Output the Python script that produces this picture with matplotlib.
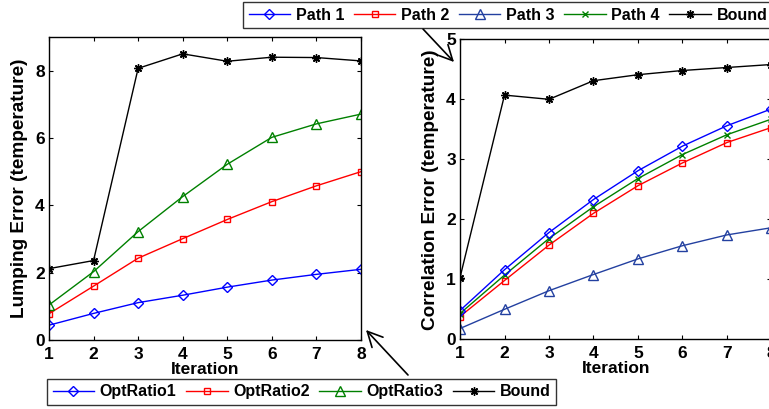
import numpy as np
import matplotlib
matplotlib.use("Agg")
import matplotlib.pyplot as plt
from matplotlib.lines import Line2D
from matplotlib.patches import FancyArrowPatch

plt.rcParams['font.family'] = ['Liberation Sans', 'DejaVu Sans']
plt.rcParams['font.weight'] = 'bold'

iters = [1, 2, 3, 4, 5, 6, 7, 8]

# lumping error
opt_ratio1 = [0.44, 0.79, 1.11, 1.33, 1.57, 1.78, 1.95, 2.10]
opt_ratio2 = [0.78, 1.60, 2.43, 3.01, 3.58, 4.11, 4.58, 5.00]
opt_ratio3 = [1.04, 2.03, 3.22, 4.26, 5.22, 6.02, 6.42, 6.71]
lump_bound = [2.12, 2.36, 8.07, 8.50, 8.28, 8.40, 8.39, 8.29]

# correlation error
path1 = [0.48, 1.16, 1.78, 2.33, 2.81, 3.22, 3.56, 3.84]
path2 = [0.38, 0.98, 1.57, 2.10, 2.56, 2.94, 3.28, 3.53]
path3 = [0.18, 0.50, 0.81, 1.08, 1.34, 1.56, 1.74, 1.86]
path4 = [0.43, 1.07, 1.68, 2.21, 2.68, 3.08, 3.41, 3.67]
corr_bound = [1.03, 4.07, 4.00, 4.31, 4.41, 4.48, 4.53, 4.58]

navy = '#2340a0'
star = (8, 2, 0)  # matlab-style asterisk

# marker styles: (color, marker, size)
st_r1 = ('blue', 'D', 5.0)
st_r2 = ('red', 's', 5.0)
st_r3 = ('green', '^', 7.0)
st_p3 = (navy, '^', 7.0)
st_p4 = ('green', 'x', 4.0)
st_bd = ('black', star, 6.0)

fig = plt.figure(figsize=(7.69, 4.09), dpi=100)
ax1 = fig.add_axes([0.0637, 0.1687, 0.4057, 0.7408])
ax2 = fig.add_axes([0.5982, 0.1704, 0.4050, 0.7335])

def draw(ax, y, style):
    c, m, ms = style
    ax.plot(iters, y, color=c, marker=m, markersize=ms, markerfacecolor='none',
            linewidth=1.0, markeredgewidth=1.0)

draw(ax1, opt_ratio1, st_r1)
draw(ax1, opt_ratio2, st_r2)
draw(ax1, opt_ratio3, st_r3)
draw(ax1, lump_bound, st_bd)

draw(ax2, corr_bound, st_bd)
draw(ax2, path3, st_p3)
draw(ax2, path2, st_r2)
draw(ax2, path4, st_p4)
draw(ax2, path1, st_r1)

for ax, top, label in [(ax1, 9, 'Lumping Error (temperature)'),
                       (ax2, 5, 'Correlation Error (temperature)')]:
    ax.set_xlim(1, 8)
    ax.set_ylim(0, top)
    ax.set_xticks(iters)
    ax.tick_params(direction='in', top=True, right=True, length=3,
                   labelsize=12.5, width=0.8)
    ax.tick_params(axis='x', pad=5)
    ax.tick_params(axis='y', pad=3)
    ax.set_xlabel('Iteration', fontsize=12.5, fontweight='bold', labelpad=0)
    ax.set_ylabel(label, fontsize=13.7, fontweight='bold', labelpad=5)
    for s in ax.spines.values():
        s.set_linewidth(1.0)

ax1.set_yticks([0, 2, 4, 6, 8])
ax2.set_yticks([0, 1, 2, 3, 4, 5])

def handle(style):
    c, m, ms = style
    return Line2D([], [], color=c, marker=m, markersize=ms,
                  markerfacecolor='none', linewidth=1.0, markeredgewidth=1.0)

top_handles = [handle(s) for s in (st_r1, st_r2, st_p3, st_p4, st_bd)]
top_labels = ['Path 1', 'Path 2', 'Path 3', 'Path 4', 'Bound']
bot_handles = [handle(s) for s in (st_r1, st_r2, st_r3, st_bd)]
bot_labels = ['OptRatio1', 'OptRatio2', 'OptRatio3', 'Bound']

legkw = dict(ncol=5, frameon=True, fancybox=False, fontsize=11.5,
             handlelength=2.6, handletextpad=0.35, columnspacing=0.6,
             borderpad=0.35, borderaxespad=0)
lg1 = fig.legend(top_handles, top_labels, loc='upper left',
                 bbox_to_anchor=(243 / 769, 1 - 2 / 409), **legkw)
legkw['ncol'] = 4
lg2 = fig.legend(bot_handles, bot_labels, loc='lower left',
                 bbox_to_anchor=(47 / 769, 4 / 409), **legkw)
for lg in (lg1, lg2):
    lg.get_frame().set_edgecolor('black')
    lg.get_frame().set_linewidth(1.0)

# arrows from the legends to their panels
arrow = dict(arrowstyle='->, head_length=0.9, head_width=0.45', color='black',
             lw=1.2, shrinkA=0, shrinkB=0, mutation_scale=12,
             transform=fig.transFigure)
fig.add_artist(FancyArrowPatch((423 / 769, 1 - 29 / 409),
                               (454 / 769, 1 - 62 / 409), **arrow))
fig.add_artist(FancyArrowPatch((408 / 769, 1 - 375 / 409),
                               (366 / 769, 1 - 330 / 409), **arrow))

fig.savefig('out.png', dpi=100)
